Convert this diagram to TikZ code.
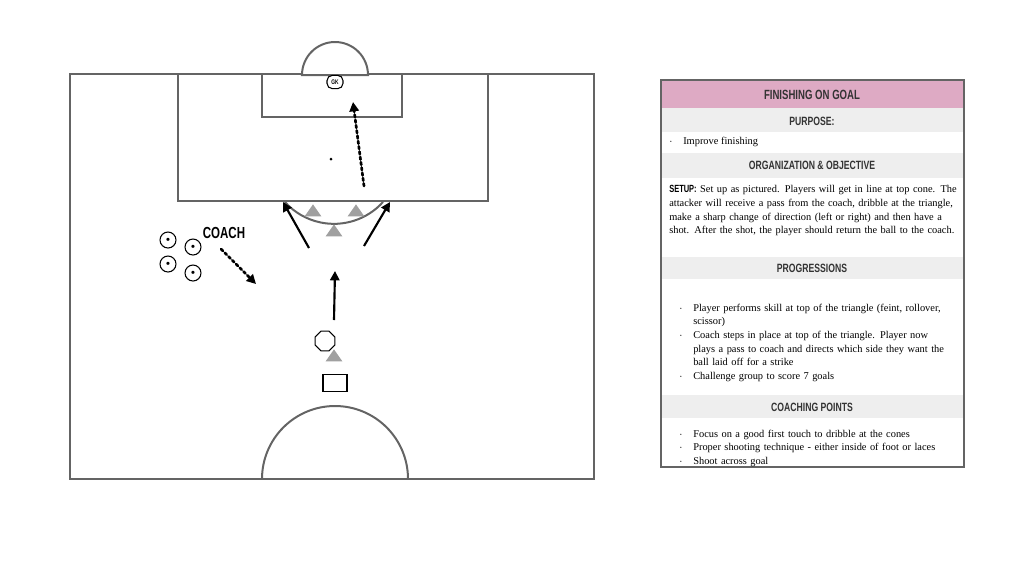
\documentclass[tikz,border=0pt]{standalone}
\usepackage{fontspec}
\setmainfont{Liberation Serif}
\newfontfamily\headfont[FakeStretch=0.72]{Liberation Sans}
\usetikzlibrary{shapes.geometric, shapes.misc, arrows.meta, positioning}
\definecolor{pinkband}{RGB}{222,170,196}
\definecolor{grayband}{RGB}{238,238,238}
\definecolor{conegray}{RGB}{160,160,160}
\definecolor{linegray}{RGB}{100,100,100}
\tikzstyle{pitch} = [draw=linegray, line width=1.5pt]
\tikzstyle{run} = [line width=1.6pt, -{Triangle[length=7pt,width=7pt]}]
\tikzstyle{pass} = [line width=2pt, dotted, line cap=round, -{Triangle[length=7pt,width=7pt]}]
\tikzstyle{cone} = [isosceles triangle, shape border rotate=90, isosceles triangle apex angle=70, fill=conegray, minimum height=9pt, inner sep=0pt]
\tikzstyle{ball} = [circle, draw, thick, fill=white, minimum size=12pt, inner sep=0pt]
\tikzstyle{band} = [font=\headfont\bfseries\small, text=black!80]
\tikzstyle{bodytext} = [font=\fontsize{7.8}{10.3}\selectfont, anchor=north west, align=left, inner sep=0pt]
\newcommand{\bul}{\par\hangindent=10.5pt\hangafter=1\makebox[10.5pt][l]{$\cdot$}}

\begin{document}
\begin{tikzpicture}[x=0.75pt, y=-0.75pt,
    every node/.style={inner sep=1pt}]
    \useasboundingbox (0,0) rectangle (1024,576);

    % pitch
    \draw[pitch] (70,479) -- (70,74) -- (594,74) -- (594,479) -- cycle;
    \draw[pitch] (178,74) rectangle (488,201);
    \draw[pitch] (262,74) rectangle (402,117);
    \draw[pitch, fill=white] (302,75) arc (180:360:33) -- cycle;
    \draw[pitch] (383,202) arc (42:138:66);
    \draw[pitch] (262,479) arc (180:360:73);
    \fill (331,159) circle (1.5);
    \node[draw, thick, rounded corners=4pt, fill=white, font=\headfont\bfseries\tiny, minimum width=12pt, minimum height=10pt] (gk) at (335,82) {GK};

    % cones
    \node[cone] (c1) at (313,212) {};
    \node[cone] (c2) at (356,212) {};
    \node[cone] (c3) at (334,232) {};
    \node[cone] (c4) at (334,357) {};
    \node[regular polygon, regular polygon sides=8, draw, thick, minimum size=16pt, inner sep=0pt] (p1) at (325,341) {};
    \node[draw, thick, chamfered rectangle, chamfered rectangle xsep=4pt, chamfered rectangle ysep=4pt, minimum width=18pt, minimum height=13pt, inner sep=0pt] (p2) at (335,383) {};

    % runs and passes
    \coordinate (s1) at (364,186);
    \coordinate (g1) at (353,102);
    \draw[pass] (s1) -- (g1);
    \coordinate (l0) at (309,248);
    \coordinate (l1) at (283,202);
    \coordinate (r0) at (364,246);
    \coordinate (r1) at (390,202);
    \coordinate (m0) at (334,320);
    \coordinate (m1) at (335,271);
    \draw[run] (l0) -- (l1);
    \draw[run] (r0) -- (r1);
    \draw[run] (m0) -- (m1);

    % coach and balls
    \node[font=\headfont\bfseries\large] (coach) at (224,233) {COACH};
    \coordinate (k0) at (221,249);
    \coordinate (k1) at (256,284);
    \draw[pass] (k0) -- (k1);
    \foreach \bx/\by [count=\i] in {168/240, 193/247, 168/264, 193/273}
        \node[ball] (b\i) at (\bx,\by) {\tiny$\bullet$};

    % panel
    \fill[pinkband] (661,80) rectangle (964,108);
    \fill[grayband] (661,108) rectangle (964,132);
    \fill[grayband] (661,153) rectangle (964,178);
    \fill[grayband] (661,257) rectangle (964,279);
    \fill[grayband] (661,395) rectangle (964,418);
    \draw[linegray, thick] (661,80) rectangle (964,467);
    \node[band, font=\headfont\bfseries\normalsize] (title) at (812,95) {FINISHING ON GOAL};
    \node[band] (purp) at (812,121) {PURPOSE:};
    \node[band] (org) at (812,165) {ORGANIZATION \& OBJECTIVE};
    \node[band] (prog) at (812,268) {PROGRESSIONS};
    \node[band] (coachp) at (812,407) {COACHING POINTS};

    \node[bodytext] (t1) at (669,137) {\makebox[10.5pt][l]{$\cdot$}Improve finishing};
    \node[bodytext, text width=216pt] (t2) at (669,185) {{\headfont\bfseries SETUP:} Set up as pictured. Players will get in line at top cone. The attacker will receive a pass from the coach, dribble at the triangle, make a sharp change of direction (left or right) and then have a shot. After the shot, the player should return the ball to the coach.};
    \node[bodytext, text width=200pt] (t3) at (679,297) {%
        \bul Player performs skill at top of the triangle (feint, rollover, scissor)
        \bul Coach steps in place at top of the triangle. Player now plays a pass to coach and directs which side they want the ball laid off for a strike
        \bul Challenge group to score 7 goals};
    \node[bodytext, text width=215pt] (t4) at (679,423) {%
        \bul Focus on a good first touch to dribble at the cones
        \bul Proper shooting technique - either inside of foot or laces
        \bul Shoot across goal};
\end{tikzpicture}
\end{document}
